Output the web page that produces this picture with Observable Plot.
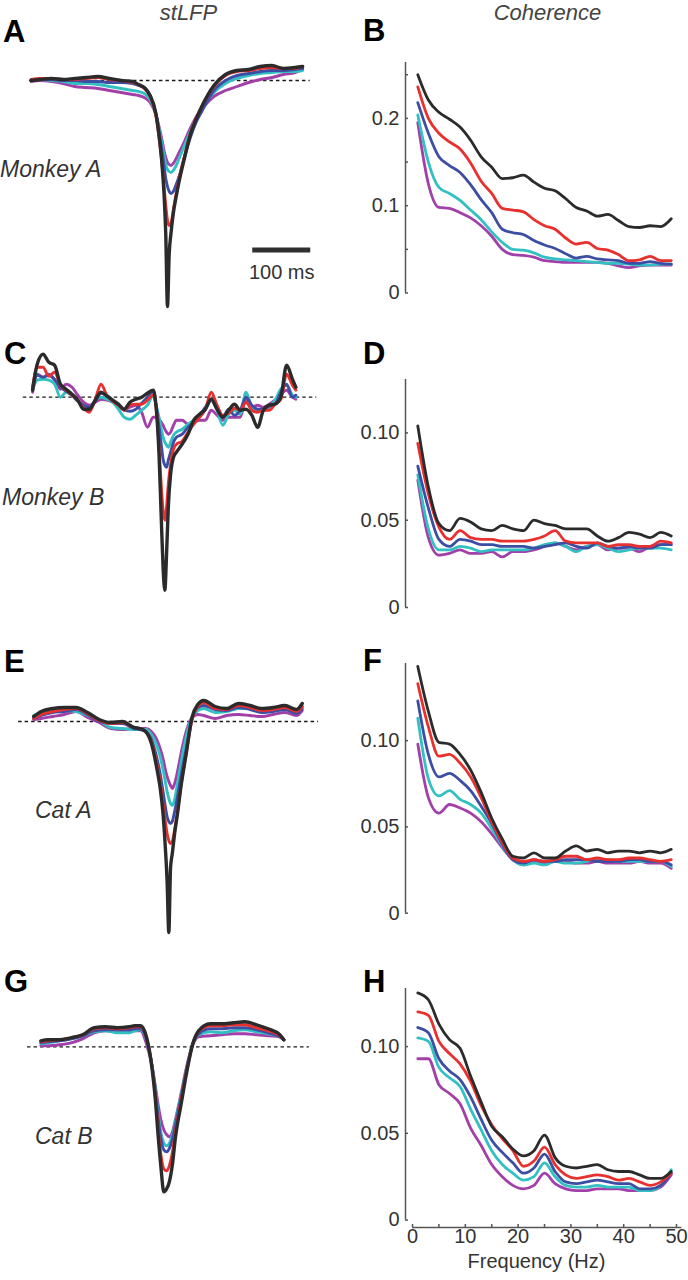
<!DOCTYPE html>
<html><head><meta charset="utf-8">
<script src="https://cdn.jsdelivr.net/npm/d3@7"></script>
<script src="https://cdn.jsdelivr.net/npm/@observablehq/plot@0.6"></script>
<style>
body{margin:0;background:#fff;}
#fig{position:relative;width:688px;height:1280px;overflow:hidden;background:#fff;font-family:"Liberation Sans",Arial,Helvetica,sans-serif;}
</style></head><body><div id="fig"></div>
<script>
// ---------- series (colour groups) ----------
const seriesNames = ["black","red","blue","cyan","purple"];
const seriesColors = ["#2b2b2b","#e8302f","#3c4ea4","#33c0c2","#a23fa8"];

// ---------- stLFP (a.u., 0 = dashed baseline), time in ms ----------
const A_time = [-235,-220,-200,-180,-160,-140,-120,-100,-80,-60,-50,-40,-30,-20,-15,-10,-6,-3,0,3,6,10,15,20,30,40,50,60,80,100,120,140,160,180,200,220,233];
const A_black  = [0,1,2,1,2,3,4,2,0,-1,-4,-7,-15,-33,-53,-80,-113,-153,-226,-173,-153,-133,-116,-101,-76,-53,-38,-25,-5,6,10,11,14,15,12,13,14];
const A_red    = [1,2,2,1,1,2,3,1,0,-2,-4,-8,-16,-35,-55,-80,-105,-125,-140,-145,-143,-130,-113,-98,-74,-52,-37,-25,-6,5,9,10,12,13,12,12,14];
const A_blue   = [1,1,1,0,0,-1,-1,-2,-2,-3,-5,-7,-15,-33,-50,-68,-85,-98,-106,-111,-113,-111,-104,-96,-75,-56,-41,-30,-10,0,5,7,9,10,10,11,12];
const A_cyan   = [1,1,0,-1,-3,-3,-4,-6,-8,-10,-11,-13,-19,-34,-47,-62,-75,-84,-89,-91,-92,-90,-85,-78,-64,-50,-38,-28,-12,-3,2,5,7,8,9,9,10];
const A_purple = [-1,0,-1,-3,-6,-7,-8,-10,-12,-14,-15,-17,-22,-34,-45,-58,-70,-77,-82,-84,-85,-83,-78,-72,-60,-47,-36,-28,-16,-10,-6,-2,1,3,6,8,11];

const C_time = [-228,-220,-210,-200,-190,-180,-170,-160,-150,-140,-130,-120,-110,-100,-90,-80,-70,-60,-50,-40,-30,-20,-15,-10,-6,-3,0,3,6,10,15,20,30,40,50,60,70,80,90,100,110,120,130,140,150,160,170,180,190,200,210,220,226];
const C_black  = [7,33,43,35,32,13,8,3,-3,-12,-12,-3,5,1,-3,-7,-12,-5,-2,0,4,7,-10,-57,-123,-170,-193,-157,-110,-77,-60,-55,-47,-37,-23,-17,-12,-2,-12,-20,-13,-7,-13,-12,-18,-30,-13,-8,-7,0,32,18,10];
const C_red    = [10,30,30,21,25,12,7,2,-3,-11,-15,-2,13,2,-4,-8,-13,-8,-7,-7,-3,2,-10,-50,-90,-113,-123,-110,-87,-67,-52,-47,-44,-35,-27,-20,-12,5,-8,-18,-16,-11,-13,-5,-13,-15,-13,-13,-7,-2,23,12,7];
const C_blue   = [8,22,20,22,18,10,6,2,-4,-8,-10,-4,4,2,-3,-8,-13,-14,-12,-6,0,6,-8,-30,-48,-62,-68,-70,-63,-55,-45,-40,-37,-30,-25,-18,-10,-2,-12,-20,-12,-18,-13,0,-8,-12,-12,-9,-7,5,13,0,2];
const C_cyan   = [7,17,18,17,13,0,5,2,-4,-8,-12,-3,0,-2,-5,-12,-20,-22,-18,-13,-8,2,-8,-20,-32,-40,-45,-48,-50,-45,-38,-35,-32,-27,-23,-20,-12,-3,-13,-28,-17,-13,-17,5,-10,-13,-13,-10,-3,8,12,2,0];
const C_purple = [5,23,20,23,17,8,13,10,2,-5,-8,-5,-2,-3,-5,-8,-12,-10,-8,-15,-30,-20,-20,-22,-25,-28,-32,-35,-37,-35,-28,-23,-23,-27,-25,-23,-23,-13,-18,-23,-20,-20,-20,-2,-10,-8,-10,-7,-3,3,7,0,-2];

const E_time = [-233,-220,-200,-180,-160,-140,-120,-100,-80,-60,-50,-40,-30,-20,-15,-10,-6,-3,0,3,6,10,15,20,30,40,50,60,80,100,120,140,160,180,200,220,230];
const E_black  = [5,10,13,14,14,9,2,-1,0,-6,-7,-10,-22,-49,-66,-92,-126,-159,-211,-146,-132,-112,-92,-69,-32,4,17,21,15,13,18,16,13,14,16,12,18];
const E_red    = [3,7,10,12,13,8,1,-2,-1,-6,-7,-10,-20,-44,-60,-82,-100,-112,-119,-122,-120,-108,-90,-68,-32,2,15,19,13,12,16,14,11,12,14,10,15];
const E_blue   = [3,6,9,10,12,7,0,-2,-2,-7,-8,-10,-18,-38,-52,-70,-85,-95,-100,-102,-100,-90,-75,-58,-27,3,14,16,12,11,14,12,9,10,12,8,13];
const E_cyan   = [6,8,10,11,10,6,1,-6,-7,-8,-8,-8,-13,-25,-35,-48,-60,-70,-77,-82,-84,-78,-62,-45,-15,4,11,13,9,10,13,13,10,12,14,9,15];
const E_purple = [2,3,5,7,10,4,-1,-7,-8,-7,-7,-7,-10,-19,-27,-37,-48,-55,-60,-64,-67,-62,-50,-35,-10,4,7,6,3,6,7,6,5,7,9,6,11];

const G_time = [-212,-200,-180,-160,-140,-120,-100,-80,-60,-50,-40,-30,-20,-15,-10,-5,0,5,10,15,20,30,40,50,60,80,100,120,140,160,180,200,207];
const G_black  = [6,7,7,9,12,19,20,19,20,21,21,10,-23,-50,-87,-120,-145,-142,-134,-117,-91,-57,-24,3,16,23,23,24,25,22,18,12,7];
const G_red    = [5,6,7,9,12,18,19,18,19,20,20,9,-22,-47,-80,-108,-122,-124,-118,-105,-85,-53,-22,3,15,21,21,22,22,19,16,11,7];
const G_blue   = [4,5,6,8,11,16,17,17,17,18,18,8,-20,-42,-70,-92,-103,-105,-101,-92,-78,-50,-21,3,13,18,18,19,19,17,14,10,7];
const G_cyan   = [3,4,6,8,11,15,16,14,14,16,17,7,-20,-40,-66,-86,-96,-99,-96,-88,-75,-48,-20,3,12,15,14,16,17,15,13,10,7];
const G_purple = [1,1,2,4,8,14,16,15,16,16,16,3,-20,-38,-57,-73,-83,-88,-90,-85,-73,-46,-18,2,10,11,12,13,13,12,11,10,7];

// ---------- Coherence vs frequency ----------
const freqHz = [1,3,5,7,9,11,13,15,17,19,21,23,25,27,29,31,33,35,37,39,41,43,45,47,49];
const B_black  = [0.250,0.221,0.207,0.199,0.190,0.175,0.156,0.144,0.131,0.132,0.135,0.127,0.120,0.117,0.108,0.098,0.094,0.088,0.090,0.083,0.076,0.075,0.077,0.076,0.085];
const B_red    = [0.236,0.200,0.183,0.173,0.165,0.149,0.128,0.114,0.097,0.095,0.093,0.084,0.077,0.073,0.063,0.056,0.058,0.051,0.049,0.044,0.037,0.038,0.042,0.037,0.037];
const B_blue   = [0.218,0.183,0.156,0.146,0.138,0.124,0.107,0.092,0.073,0.069,0.067,0.060,0.055,0.051,0.045,0.040,0.042,0.039,0.038,0.037,0.034,0.034,0.036,0.034,0.033];
const B_cyan   = [0.204,0.150,0.121,0.114,0.106,0.095,0.084,0.070,0.058,0.050,0.049,0.046,0.041,0.039,0.038,0.037,0.036,0.035,0.034,0.034,0.033,0.032,0.032,0.033,0.033];
const B_purple = [0.195,0.125,0.098,0.097,0.092,0.086,0.077,0.065,0.050,0.044,0.043,0.041,0.037,0.036,0.035,0.035,0.035,0.035,0.034,0.031,0.029,0.031,0.032,0.032,0.032];

const D_black  = [0.104,0.069,0.048,0.044,0.051,0.049,0.045,0.044,0.047,0.045,0.044,0.050,0.048,0.047,0.045,0.045,0.045,0.041,0.038,0.040,0.043,0.042,0.040,0.043,0.041];
const D_red    = [0.094,0.065,0.046,0.039,0.044,0.040,0.039,0.039,0.038,0.038,0.038,0.039,0.041,0.044,0.038,0.037,0.037,0.037,0.035,0.036,0.036,0.035,0.035,0.038,0.037];
const D_blue   = [0.081,0.057,0.039,0.035,0.039,0.038,0.036,0.036,0.035,0.035,0.035,0.034,0.035,0.036,0.037,0.035,0.034,0.037,0.035,0.034,0.035,0.034,0.034,0.036,0.036];
const D_cyan   = [0.076,0.045,0.033,0.033,0.035,0.034,0.032,0.033,0.033,0.033,0.033,0.034,0.036,0.037,0.035,0.032,0.035,0.036,0.034,0.032,0.033,0.034,0.034,0.034,0.033];
const D_purple = [0.073,0.040,0.030,0.031,0.033,0.031,0.031,0.032,0.029,0.032,0.032,0.033,0.035,0.037,0.035,0.033,0.035,0.036,0.033,0.034,0.034,0.032,0.035,0.036,0.036];

const F_black  = [0.143,0.117,0.099,0.098,0.092,0.083,0.070,0.055,0.043,0.033,0.032,0.035,0.032,0.032,0.036,0.039,0.036,0.037,0.035,0.036,0.036,0.035,0.036,0.035,0.037];
const F_red    = [0.133,0.108,0.091,0.092,0.087,0.079,0.067,0.053,0.041,0.032,0.030,0.031,0.030,0.031,0.033,0.033,0.031,0.032,0.031,0.031,0.032,0.032,0.031,0.030,0.031];
const F_blue   = [0.123,0.092,0.079,0.081,0.077,0.071,0.062,0.052,0.040,0.031,0.029,0.031,0.030,0.030,0.031,0.031,0.031,0.030,0.030,0.030,0.031,0.031,0.030,0.030,0.028];
const F_cyan   = [0.113,0.078,0.068,0.071,0.066,0.063,0.058,0.049,0.039,0.031,0.028,0.029,0.028,0.030,0.029,0.029,0.030,0.031,0.031,0.030,0.030,0.030,0.030,0.030,0.027];
const F_purple = [0.098,0.067,0.058,0.063,0.061,0.058,0.053,0.046,0.038,0.031,0.028,0.030,0.029,0.030,0.030,0.029,0.029,0.030,0.029,0.029,0.029,0.030,0.029,0.029,0.026];

const H_black  = [0.131,0.127,0.113,0.104,0.099,0.083,0.068,0.054,0.048,0.041,0.037,0.040,0.049,0.036,0.031,0.030,0.031,0.032,0.029,0.028,0.028,0.026,0.024,0.024,0.028];
const H_red    = [0.120,0.118,0.103,0.096,0.090,0.080,0.066,0.055,0.047,0.040,0.031,0.034,0.042,0.032,0.026,0.024,0.025,0.026,0.025,0.023,0.024,0.022,0.020,0.022,0.027];
const H_blue   = [0.111,0.108,0.093,0.086,0.081,0.071,0.058,0.046,0.039,0.033,0.027,0.030,0.038,0.028,0.022,0.021,0.022,0.023,0.022,0.021,0.021,0.018,0.018,0.020,0.027];
const H_cyan   = [0.105,0.103,0.088,0.082,0.077,0.064,0.052,0.040,0.032,0.027,0.023,0.025,0.033,0.025,0.020,0.019,0.019,0.020,0.019,0.019,0.019,0.017,0.017,0.020,0.029];
const H_purple = [0.093,0.093,0.078,0.073,0.067,0.053,0.043,0.032,0.025,0.020,0.018,0.020,0.027,0.021,0.018,0.017,0.017,0.018,0.018,0.018,0.017,0.017,0.017,0.019,0.026];

// ---------- ticks & labels ----------
const B_yTicks = [0,0.05,0.1,0.15,0.2,0.25];
const B_yLabelVals = [0,0.1,0.2];
const B_yLabels = ["0","0.1","0.2"];
const DFH_yTicks = [0,0.05,0.10];
const DFH_yLabels = ["0","0.05","0.10"];
const xTicks = [0,5,10,15,20,25,30,35,40,45,50];
const xLabelVals = [0,10,20,30,40,50];
const xLabels = ["0","10","20","30","40","50"];
const xAxisExtent = [0,51];
const scaleBarMs = 100;
const scaleBarStart = 147;

// ---------- text ----------
const headers = ["stLFP","Coherence"];
const panelLetters = ["A","B","C","D","E","F","G","H"];
const subjects = ["Monkey A","Monkey B","Cat A","Cat B"];
const xTitle = "Frequency (Hz)";

// ---------- layout ----------
const FONT = "'Liberation Sans', Arial, Helvetica, sans-serif";
const fig = document.getElementById("fig");
const TXT = "#333";
const AXIS = "#555";
const drawOrder = [4,3,2,1,0];
function place(el, left, top) {
  el.style.position = "absolute"; el.style.left = left + "px"; el.style.top = top + "px";
  fig.appendChild(el);
}
const plotStyle = {background: "transparent", overflow: "visible", fontFamily: FONT};

function lfpPanel(cfg) {
  const rows = [];
  cfg.series.forEach((vals, si) => vals.forEach((v, i) => rows.push({t: cfg.time[i], v, s: si})));
  const marks = [
    Plot.ruleY([0], {x1: cfg.base[0], x2: cfg.base[1], stroke: "#1a1a1a", strokeWidth: 1.3, strokeDasharray: "3.5,3"})
  ];
  for (const si of drawOrder) {
    marks.push(Plot.line(rows.filter(r => r.s === si), {x: "t", y: "v", stroke: seriesColors[si], curve: "monotone-x",
      strokeWidth: si === 0 ? 3.4 : 2.9, strokeLinejoin: "round", strokeLinecap: "round"}));
  }
  if (cfg.extra) marks.push(...cfg.extra);
  const svg = Plot.plot({
    width: 344, height: cfg.height, margin: 0,
    x: {domain: cfg.xDomain, axis: null},
    y: {domain: cfg.yDomain, axis: null},
    style: plotStyle,
    marks
  });
  place(svg, 0, cfg.top);
}

const FREQ_DOMAIN = [-1.33, 52.27];
const RIGHT_ML = 61;
const FRAME_W = 344 - RIGHT_ML;

function cohPanel(cfg) {
  const rows = [];
  cfg.series.forEach((vals, si) => vals.forEach((v, i) => rows.push({f: freqHz[i], c: v, s: si})));
  const frameH = cfg.height - cfg.mt - cfg.mb;
  const marks = [
    Plot.ruleX([FREQ_DOMAIN[0]], {y1: 0, y2: cfg.yDomain[1], stroke: AXIS, strokeWidth: 1.5}),
    Plot.tickY(cfg.yTicks, {y: d => d, stroke: AXIS, strokeWidth: 1.5, insetRight: FRAME_W - 3}),
    Plot.text(cfg.yLabelVals, {y: d => d, text: (d, i) => cfg.yLabels[i], frameAnchor: "left", textAnchor: "end", dx: -6, fontSize: 20, fill: TXT})
  ];
  for (const si of drawOrder) {
    marks.push(Plot.line(rows.filter(r => r.s === si), {x: "f", y: "c", stroke: seriesColors[si], strokeWidth: 2.8, curve: "monotone-x", strokeLinejoin: "round"}));
  }
  if (cfg.xAxis) {
    marks.push(
      Plot.ruleY([cfg.yDomain[0]], {x1: xAxisExtent[0], x2: xAxisExtent[1], stroke: AXIS, strokeWidth: 1.5}),
      Plot.tickX(xTicks, {x: d => d, stroke: AXIS, strokeWidth: 1.5, insetTop: frameH - 3}),
      Plot.text(xLabelVals, {x: d => d, text: (d, i) => xLabels[i], frameAnchor: "bottom", lineAnchor: "top", dy: 1, fontSize: 20, fill: TXT})
    );
  }
  const svg = Plot.plot({
    width: 344, height: cfg.height, marginLeft: RIGHT_ML, marginRight: 0, marginTop: cfg.mt, marginBottom: cfg.mb,
    x: {domain: FREQ_DOMAIN, axis: null},
    y: {domain: cfg.yDomain, axis: null},
    style: plotStyle,
    marks
  });
  place(svg, 344, cfg.top);
}

// Left column: stLFP
lfpPanel({time: A_time, series: [A_black, A_red, A_blue, A_cyan, A_purple], top: 40, height: 280,
  xDomain: [-287.9, 305.2], yDomain: [-240, 40], base: [-238, 246],
  extra: [
    Plot.ruleY([-169.5], {x1: scaleBarStart, x2: scaleBarStart + scaleBarMs, stroke: "#2f2f2f", strokeWidth: 5}),
    Plot.text([scaleBarMs + " ms"], {x: scaleBarStart + scaleBarMs / 2, y: -192.5, text: d => d, fontSize: 20, fill: TXT})
  ]});
lfpPanel({time: C_time, series: [C_black, C_red, C_blue, C_cyan, C_purple], top: 330, height: 300,
  xDomain: [-283.3, 309.8], yDomain: [-233.3, 66.7], base: [-244, 262]});
lfpPanel({time: E_time, series: [E_black, E_red, E_blue, E_cyan, E_purple], top: 640, height: 300,
  xDomain: [-290.2, 302.9], yDomain: [-219, 81], base: [-259, 258]});
lfpPanel({time: G_time, series: [G_black, G_red, G_blue, G_cyan, G_purple], top: 980, height: 220,
  xDomain: [-281.6, 311.6], yDomain: [-153.7, 66.3], base: [-235, 251]});

// Right column: coherence
cohPanel({series: [B_black, B_red, B_blue, B_cyan, B_purple], top: 52, height: 260, mt: 10, mb: 19.5,
  yDomain: [0, 0.264], yTicks: B_yTicks, yLabelVals: B_yLabelVals, yLabels: B_yLabels});
cohPanel({series: [D_black, D_red, D_blue, D_cyan, D_purple], top: 369, height: 253, mt: 10, mb: 15,
  yDomain: [0, 0.1306], yTicks: DFH_yTicks, yLabelVals: DFH_yTicks, yLabels: DFH_yLabels});
cohPanel({series: [F_black, F_red, F_blue, F_cyan, F_purple], top: 653, height: 275, mt: 10, mb: 15.3,
  yDomain: [0, 0.1447], yTicks: DFH_yTicks, yLabelVals: DFH_yTicks, yLabels: DFH_yLabels});
cohPanel({series: [H_black, H_red, H_blue, H_cyan, H_purple], top: 978, height: 302, mt: 10, mb: 53,
  yDomain: [-0.0043, 0.1335], yTicks: DFH_yTicks, yLabelVals: DFH_yTicks, yLabels: DFH_yLabels, xAxis: true});

// Overlay text (headers, panel letters, subject labels, x title)
const overlay = d3.select(fig).append("svg")
  .attr("width", 688).attr("height", 1280)
  .style("position", "absolute").style("left", "0px").style("top", "0px").style("pointer-events", "none")
  .attr("font-family", FONT);
const headerPos = [[188.5, 20], [547.5, 20]];
headers.forEach((h, i) => overlay.append("text").attr("x", headerPos[i][0]).attr("y", headerPos[i][1])
  .attr("text-anchor", "middle").attr("font-size", 22).attr("font-style", "italic").attr("fill", "#444").text(h));
const letterPos = [[3,42],[363,41],[4,364],[363,364],[4,672],[363,671],[4,992],[363,992]];
panelLetters.forEach((l, i) => overlay.append("text").attr("x", letterPos[i][0]).attr("y", letterPos[i][1])
  .attr("font-size", 31).attr("font-weight", "bold").attr("fill", "#000").text(l));
const subjectPos = [[0,177],[2,505],[35,818],[35,1144]];
subjects.forEach((s, i) => overlay.append("text").attr("x", subjectPos[i][0]).attr("y", subjectPos[i][1])
  .attr("font-size", 23).attr("font-style", "italic").attr("fill", TXT).text(s));
overlay.append("text").attr("x", 536.5).attr("y", 1268).attr("text-anchor", "middle")
  .attr("font-size", 20).attr("fill", TXT).text(xTitle);
</script>
</body></html>
